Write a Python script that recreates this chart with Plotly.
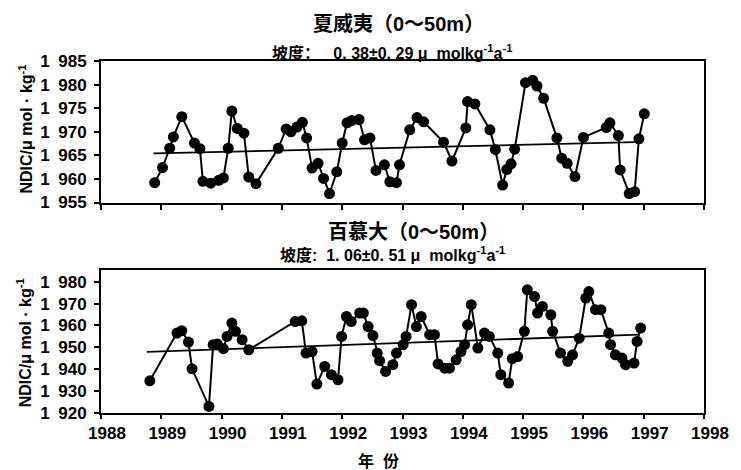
import plotly.graph_objects as go

# ---- Hawaii (0~50m) ----
hawaii_year = [1988.89, 1989.02, 1989.14, 1989.20, 1989.34, 1989.55, 1989.64, 1989.69, 1989.82, 1989.95,
               1990.03, 1990.11, 1990.17, 1990.26, 1990.37, 1990.45, 1990.57, 1990.94, 1991.07, 1991.15,
               1991.25, 1991.34, 1991.41, 1991.50, 1991.60, 1991.69, 1991.79, 1991.91, 1992.00, 1992.08,
               1992.16, 1992.28, 1992.37, 1992.46, 1992.56, 1992.70, 1992.79, 1992.90, 1992.95, 1993.12,
               1993.24, 1993.35, 1993.68, 1993.82, 1994.05, 1994.08, 1994.20, 1994.45, 1994.54, 1994.66,
               1994.73, 1994.80, 1994.86, 1995.04, 1995.16, 1995.23, 1995.34, 1995.56, 1995.64, 1995.73,
               1995.86, 1996.00, 1996.38, 1996.44, 1996.58, 1996.61, 1996.76, 1996.85, 1996.92, 1997.01]
hawaii_ndic = [959.2, 962.4, 966.5, 968.9, 973.2, 967.6, 966.4, 959.5, 959.1, 959.7,
               960.2, 966.5, 974.4, 970.7, 969.7, 960.4, 959.0, 966.5, 970.6, 970.0,
               971.0, 972.0, 968.7, 962.3, 963.3, 960.1, 956.9, 961.5, 967.6, 971.9,
               972.4, 972.6, 968.3, 968.7, 961.8, 963.0, 959.4, 959.2, 963.0, 970.4,
               973.0, 972.1, 967.8, 963.8, 970.8, 976.4, 975.9, 970.4, 966.2, 958.7,
               962.0, 963.2, 966.3, 980.4, 980.9, 979.7, 977.1, 968.7, 964.4, 963.3,
               960.5, 968.8, 970.9, 971.9, 969.2, 961.9, 956.9, 957.3, 968.5, 973.8]
hawaii_trend_year = [1988.87, 1996.85]
hawaii_trend_ndic = [965.4, 967.8]

# ---- Bermuda (0~50m) ----
bermuda_year = [1988.81, 1989.26, 1989.34, 1989.45, 1989.51, 1989.79, 1989.86, 1989.93, 1990.03, 1990.09,
                1990.17, 1990.23, 1990.34, 1990.45, 1991.22, 1991.33, 1991.40, 1991.50, 1991.58, 1991.71,
                1991.82, 1991.93, 1991.99, 1992.07, 1992.15, 1992.29, 1992.35, 1992.43, 1992.51, 1992.58,
                1992.62, 1992.72, 1992.84, 1992.90, 1993.01, 1993.06, 1993.15, 1993.23, 1993.31, 1993.45,
                1993.53, 1993.59, 1993.70, 1993.78, 1993.89, 1993.97, 1994.03, 1994.08, 1994.14, 1994.25,
                1994.36, 1994.44, 1994.58, 1994.63, 1994.76, 1994.82, 1994.91, 1995.02, 1995.07, 1995.19,
                1995.24, 1995.32, 1995.46, 1995.49, 1995.62, 1995.74, 1995.82, 1995.93, 1996.04, 1996.09,
                1996.20, 1996.29, 1996.42, 1996.45, 1996.53, 1996.64, 1996.70, 1996.84, 1996.89, 1996.95]
bermuda_ndic = [934.7, 956.5, 957.6, 952.4, 940.2, 923.0, 951.2, 951.5, 949.4, 955.0,
                961.1, 957.3, 953.5, 948.9, 961.8, 962.1, 947.4, 948.1, 933.2, 941.3,
                937.5, 935.2, 955.0, 964.1, 961.8, 965.7, 965.7, 959.5, 955.4, 947.4,
                943.9, 939.0, 942.1, 947.4, 951.2, 955.0, 969.5, 959.5, 964.1, 955.8,
                955.8, 942.4, 940.5, 940.5, 944.3, 948.1, 951.2, 960.3, 969.5, 949.7,
                956.5, 955.0, 947.4, 937.5, 933.7, 944.8, 945.8, 957.3, 976.3, 973.2,
                965.7, 968.7, 964.9, 957.3, 947.4, 943.6, 946.6, 954.2, 972.5, 975.5,
                967.2, 967.2, 956.5, 951.2, 946.6, 945.1, 942.1, 942.8, 952.7, 958.8]
bermuda_trend_year = [1988.76, 1996.92]
bermuda_trend_ndic = [947.9, 955.8]

# ---- tick labels ----
year_ticks = [1988, 1989, 1990, 1991, 1992, 1993, 1994, 1995, 1996, 1997, 1998]
year_labels = ["1988", "1989", "1990", "1991", "1992", "1993", "1994", "1995", "1996", "1997", "1998"]
hawaii_yticks = [955, 960, 965, 970, 975, 980, 985]
hawaii_ylabels = ["1\u2002955", "1\u2002960", "1\u2002965", "1\u2002970", "1\u2002975", "1\u2002980", "1\u2002985"]
bermuda_yticks = [920, 930, 940, 950, 960, 970, 980]
bermuda_ylabels = ["1\u2002920", "1\u2002930", "1\u2002940", "1\u2002950", "1\u2002960", "1\u2002970", "1\u2002980"]

FONT = "Liberation Sans, Arial, Noto Sans CJK SC, sans-serif"

fig = go.Figure()
mk = dict(color="black", size=11)
ln = dict(color="black", width=2)
fig.add_trace(go.Scatter(x=hawaii_year, y=hawaii_ndic, mode="lines+markers", marker=mk, line=ln,
                         xaxis="x", yaxis="y", showlegend=False))
fig.add_trace(go.Scatter(x=hawaii_trend_year, y=hawaii_trend_ndic, mode="lines",
                         line=dict(color="black", width=1.8), xaxis="x", yaxis="y", showlegend=False))
fig.add_trace(go.Scatter(x=bermuda_year, y=bermuda_ndic, mode="lines+markers", marker=mk, line=ln,
                         xaxis="x2", yaxis="y2", showlegend=False))
fig.add_trace(go.Scatter(x=bermuda_trend_year, y=bermuda_trend_ndic, mode="lines",
                         line=dict(color="black", width=1.8), xaxis="x2", yaxis="y2", showlegend=False))

axis_common = dict(showline=True, linecolor="black", linewidth=2, mirror=True, showgrid=False,
                   zeroline=False, ticks="outside", tickcolor="black", tickwidth=2)
tickfont = dict(family=FONT, size=17, color="black", weight="bold")

fig.update_layout(
    width=741, height=470,
    margin=dict(l=101, r=35, t=61, b=57),
    paper_bgcolor="white", plot_bgcolor="white",
    xaxis=dict(domain=[0, 1], range=[1988, 1998], anchor="y", tickvals=year_ticks,
               showticklabels=False, ticklen=5, **axis_common),
    yaxis=dict(domain=[0.598, 1.0], range=[955, 985], anchor="x", tickvals=hawaii_yticks,
               ticktext=hawaii_ylabels, ticklen=5, tickfont=tickfont, ticklabelstandoff=4, **axis_common),
    xaxis2=dict(domain=[0, 1], range=[1988, 1998], anchor="y2", tickvals=year_ticks,
                ticktext=year_labels, ticklen=4, tickfont=tickfont, ticklabelshift=6,
                ticklabelstandoff=0, **axis_common),
    yaxis2=dict(domain=[0, 0.406], range=[920, 985.3], anchor="x2", tickvals=bermuda_yticks,
                ticktext=bermuda_ylabels, ticklen=5, tickfont=tickfont, ticklabelstandoff=4, **axis_common),
)

ann = []
ann.append(dict(text="<b>夏威夷（0～50m）</b>", x=0.4926, y=1.105, font=dict(family=FONT, size=20, color="black")))
ann.append(dict(text="<b>坡度：   0. 38±0. 29 μ  molkg<sup>-1</sup>a<sup>-1</sup></b>", x=0.4826, y=1.0256,
                font=dict(family=FONT, size=16, color="black")))
ann.append(dict(text="<b>百慕大（0～50m）</b>", x=0.519, y=0.514, font=dict(family=FONT, size=20, color="black")))
ann.append(dict(text="<b>坡度:  1. 06±0. 51 μ  molkg<sup>-1</sup>a<sup>-1</sup></b>", x=0.484, y=0.452,
                font=dict(family=FONT, size=16, color="black")))
ann.append(dict(text="<b>NDIC/μ mol · kg<sup>-1</sup></b>", x=-0.125, y=0.807, textangle=-90,
                font=dict(family=FONT, size=16, color="black")))
ann.append(dict(text="<b>NDIC/μ mol · kg<sup>-1</sup></b>", x=-0.127, y=0.199, textangle=-90,
                font=dict(family=FONT, size=16, color="black")))
ann.append(dict(text="<b>年  份</b>", x=0.461, y=-0.137, font=dict(family=FONT, size=16, color="black")))
for a in ann:
    a.update(xref="paper", yref="paper", showarrow=False, xanchor="center", yanchor="middle")
fig.update_layout(annotations=ann)

fig.write_html("out.html", config={"displayModeBar": False},
               post_script="document.body.style.margin='0';document.body.style.overflow='hidden';")
